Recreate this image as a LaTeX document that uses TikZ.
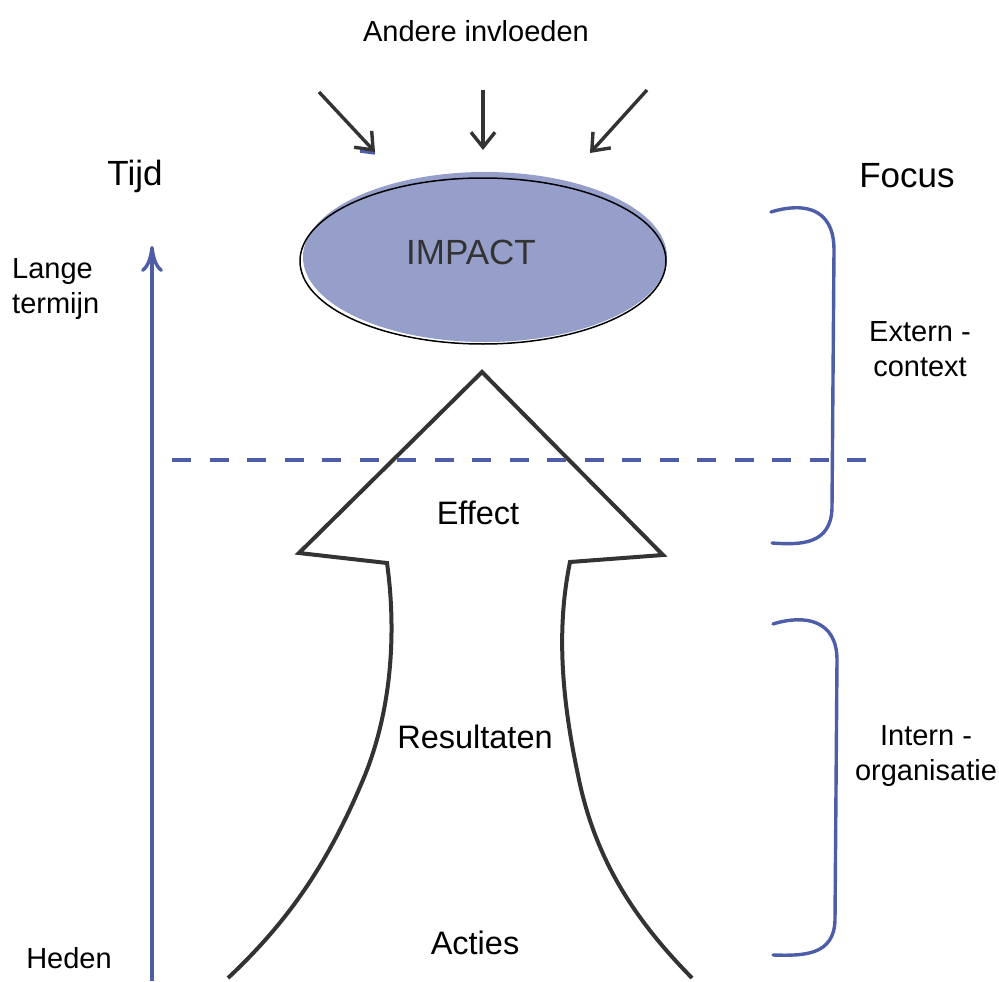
\documentclass[tikz,border=0pt]{standalone}
\usepackage{fontspec}
\setmainfont{Liberation Sans}
\usetikzlibrary{arrows.meta,shapes.geometric}
\definecolor{dark}{HTML}{333333}
\definecolor{axisblue}{HTML}{4E5DA8}
\definecolor{impactfill}{HTML}{959FCA}
\tikzset{
  lbl/.style={font=\fontsize{29}{35}\selectfont, text=black, align=center, inner sep=0pt},
  mid/.style={font=\fontsize{32.5}{38}\selectfont, text=black, inner sep=0pt},
  big/.style={font=\fontsize{35}{40}\selectfont, text=black, inner sep=0pt},
  infl/.style={draw=dark, line width=3.4pt, -{Straight Barb[length=15pt,width=24pt]}},
  bluel/.style={draw=axisblue, line width=3.4pt},
  arrowshape/.style={draw=dark, line width=4pt, line join=miter, fill=white}
}
\begin{document}
\begin{tikzpicture}[x=1pt,y=-1pt]
\useasboundingbox (0,0) rectangle (999,982);

% texts
\node[lbl] (andere) at (476,31) {Andere invloeden};
\node[big] (tijd) at (135,176) {Tijd};
\node[big] (focus) at (907,176) {Focus};
\node[lbl, align=left, anchor=west] (lange) at (12,289) {Lange\\termijn};
\node[lbl] (heden) at (69,958) {Heden};
\node[lbl] (extern) at (920,349) {Extern -\\context};
\node[lbl] (intern) at (926,756) {Intern -\\organisatie};

% influence arrows
\coordinate (i1s) at (319,92);  \coordinate (i1e) at (375,152);
\coordinate (i2s) at (483,90);  \coordinate (i2e) at (483,150);
\coordinate (i3s) at (647,90);  \coordinate (i3e) at (590,153);
\coordinate (m1) at (360,151);  \coordinate (m2) at (375,153);
\draw[bluel] (m1) -- (m2);
\draw[infl] (i1s) -- (i1e);
\draw[infl] (i2s) -- (i2e);
\draw[infl] (i3s) -- (i3e);

% impact ellipse
\fill[impactfill] (485,257) ellipse [x radius=182pt, y radius=85pt];
\draw[black, line width=1.5pt] (483,261) ellipse [x radius=183pt, y radius=83pt];
\node[font=\fontsize{35}{40}\selectfont, text=dark, inner sep=0pt] (impact) at (471,252) {IMPACT};

% big arrow
\draw[arrowshape]
  (228,978) .. controls (290,920) and (330,860) .. (365,775)
  .. controls (395,700) and (395,620) .. (387,563)
  -- (299,553) -- (482,372) -- (663,555) -- (570,562)
  .. controls (556,630) and (562,700) .. (578,775)
  .. controls (595,860) and (635,920) .. (692,978);
\node[mid] (effect) at (478,513) {Effect};
\node[mid] (result) at (475,737) {Resultaten};
\node[mid] (acties) at (475,943) {Acties};

% time axis
\coordinate (t0) at (152,981);
\coordinate (t1) at (152,246);
\draw[bluel, -{Computer Modern Rightarrow[length=26pt,width=22pt]}] (t0) -- (t1);

% dashed line
\coordinate (d0) at (172,460);
\coordinate (d1) at (878,460);
\draw[bluel, dash pattern=on 19pt off 18.5pt] (d0) -- (d1);

% braces
\draw[bluel, line cap=round]
  (771,212) .. controls (800,203) and (834,205) .. (834,250)
  -- (832,508) .. controls (831,545) and (800,545) .. (772,543);
\draw[bluel, line cap=round]
  (773,624) .. controls (805,614) and (837,620) .. (837,660)
  -- (835,920) .. controls (834,955) and (805,956) .. (773,955);
\end{tikzpicture}
\end{document}
